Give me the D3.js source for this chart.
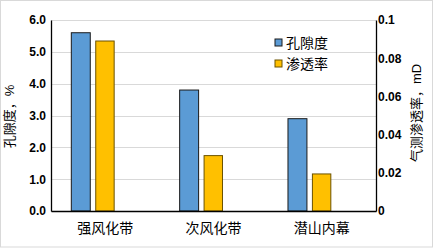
<!DOCTYPE html>
<html>
<head>
<meta charset="utf-8">
<script src="https://cdn.jsdelivr.net/npm/d3@7"></script>
<style>
  body { margin: 0; background: #fff; }
  text { font-family: "Liberation Sans", Arial, "Noto Sans CJK SC", sans-serif; }
</style>
</head>
<body>
<svg id="chart" width="434" height="248"></svg>
<script>
// data
const categories = ["强风化带", "次风化带", "潜山内幕"];
const porosity = [5.6, 3.8, 2.9];          // 孔隙度, %
const permeability = [0.089, 0.029, 0.0194]; // 气测渗透率, mD
const leftTicks = [0, 1, 2, 3, 4, 5, 6];
const rightTicks = [0, 0.02, 0.04, 0.06, 0.08, 0.1];

const svg = d3.select("#chart");
const margin = { left: 51, right: 58, top: 20, bottom: 37 };
const width = 434, height = 248;

// outer frame
svg.append("rect")
    .attr("x", 0.5).attr("y", 0.5)
    .attr("width", width - 2).attr("height", height - 1.5)
    .attr("fill", "#fff").attr("stroke", "#d9d9d9");

const x = d3.scaleBand()
    .domain(categories)
    .range([margin.left, width - margin.right]);

const yL = d3.scaleLinear().domain([0, 6]).range([height - margin.bottom, margin.top]);
const yR = d3.scaleLinear().domain([0, 0.1]).range([height - margin.bottom, margin.top]);

// gridlines
svg.append("g")
    .selectAll("line")
    .data(leftTicks)
    .enter().append("line")
    .attr("x1", margin.left).attr("x2", width - margin.right)
    .attr("y1", d => Math.round(yL(d)) + 0.5)
    .attr("y2", d => Math.round(yL(d)) + 0.5)
    .attr("stroke", "#d9d9d9");

// bars
const bw = x.bandwidth();
svg.append("g")
    .selectAll("rect")
    .data(categories)
    .enter().append("rect")
    .attr("x", (d, i) => x(d) + bw * 0.1875)
    .attr("width", bw * 0.175)
    .attr("y", (d, i) => yL(porosity[i]))
    .attr("height", (d, i) => yL(0) - yL(porosity[i]))
    .attr("fill", "#5b9bd5")
    .attr("stroke", "#1a1a1a")
    .attr("stroke-width", 1);

svg.append("g")
    .selectAll("rect")
    .data(categories)
    .enter().append("rect")
    .attr("x", (d, i) => x(d) + bw * 0.413)
    .attr("width", bw * 0.17)
    .attr("y", (d, i) => yR(permeability[i]))
    .attr("height", (d, i) => yR(0) - yR(permeability[i]))
    .attr("fill", "#ffc000")
    .attr("stroke", "#6b5200")
    .attr("stroke-width", 1);

// axes
const axisL = svg.append("g")
    .attr("transform", `translate(${margin.left},0)`)
    .call(d3.axisLeft(yL).tickValues(leftTicks).tickFormat(d3.format(".1f")).tickSize(0).tickPadding(5));
const axisR = svg.append("g")
    .attr("transform", `translate(${width - margin.right},0)`)
    .call(d3.axisRight(yR).tickValues(rightTicks).tickFormat(d => d === 0 ? "0" : d3.format("")(+d.toFixed(2))).tickSize(0).tickPadding(2));
const axisB = svg.append("g")
    .attr("transform", `translate(0,${height - margin.bottom})`)
    .call(d3.axisBottom(x).tickSize(0).tickPadding(12));

[axisL, axisR].forEach(a => {
    a.select(".domain").attr("stroke", "#000").attr("stroke-width", 1.3);
    a.selectAll("text").style("font-size", "12px").style("font-weight", "bold").attr("fill", "#000");
});
axisB.select(".domain").attr("stroke", "#000").attr("stroke-width", 1.3);
axisB.selectAll("text").style("font-size", "14px").attr("fill", "#000");

// axis titles
svg.append("text")
    .attr("transform", `translate(14,${(margin.top + height - margin.bottom) / 2 + 1}) rotate(-90)`)
    .style("text-anchor", "middle")
    .style("font-size", "13px")
    .text("孔隙度，%");

svg.append("text")
    .attr("transform", `translate(421,113) rotate(-90)`)
    .style("text-anchor", "middle")
    .style("font-size", "13px")
    .text("气测渗透率，mD");

// legend
const legend = [{ name: "孔隙度", color: "#5b9bd5", stroke: "#1a1a1a" }, { name: "渗透率", color: "#ffc000", stroke: "#6b5200" }];
const lg = svg.append("g")
    .selectAll("g")
    .data(legend)
    .enter().append("g")
    .attr("transform", (d, i) => `translate(275,${39 + i * 21})`);
lg.append("rect")
    .attr("width", 7).attr("height", 7)
    .attr("fill", d => d.color).attr("stroke", d => d.stroke);
lg.append("text")
    .attr("x", 11).attr("y", 4).attr("dy", "0.38em")
    .style("font-size", "14px")
    .text(d => d.name);
</script>
</body>
</html>
